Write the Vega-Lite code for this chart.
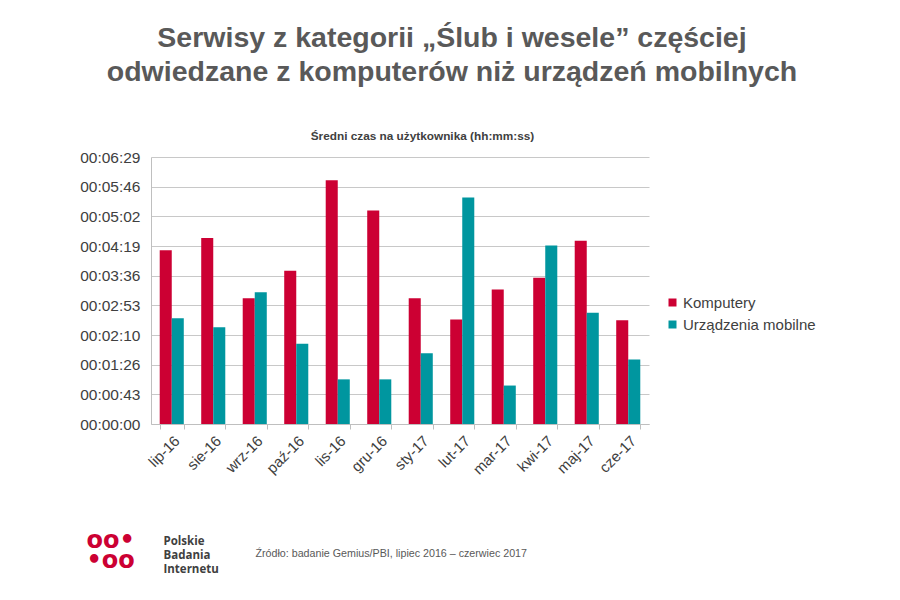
{
  "$schema": "https://vega.github.io/schema/vega-lite/v6.json",
  "width": 498,
  "height": 267,
  "autosize": {"type": "none"},
  "padding": {"left": 151, "top": 157, "right": 251, "bottom": 176},
  "background": "white",
  "config": {
    "view": {"stroke": null},
    "font": "Liberation Sans"
  },
  "title": {
    "text": ["Serwisy z kategorii „Ślub i wesele” częściej", "odwiedzane z komputerów niż urządzeń mobilnych"],
    "anchor": "middle",
    "frame": "group",
    "dx": 52,
    "offset": 44,
    "font": "Liberation Sans",
    "fontSize": 28.5,
    "fontWeight": "bold",
    "color": "#595959",
    "lineHeight": 34
  },
  "data": {
    "values": [
      {"month": "lip-16", "series": "Komputery", "seconds": 253},
      {"month": "lip-16", "series": "Urządzenia mobilne", "seconds": 154},
      {"month": "sie-16", "series": "Komputery", "seconds": 271},
      {"month": "sie-16", "series": "Urządzenia mobilne", "seconds": 141},
      {"month": "wrz-16", "series": "Komputery", "seconds": 183},
      {"month": "wrz-16", "series": "Urządzenia mobilne", "seconds": 192},
      {"month": "paź-16", "series": "Komputery", "seconds": 223},
      {"month": "paź-16", "series": "Urządzenia mobilne", "seconds": 117},
      {"month": "lis-16", "series": "Komputery", "seconds": 355},
      {"month": "lis-16", "series": "Urządzenia mobilne", "seconds": 65},
      {"month": "gru-16", "series": "Komputery", "seconds": 311},
      {"month": "gru-16", "series": "Urządzenia mobilne", "seconds": 65},
      {"month": "sty-17", "series": "Komputery", "seconds": 183},
      {"month": "sty-17", "series": "Urządzenia mobilne", "seconds": 103},
      {"month": "lut-17", "series": "Komputery", "seconds": 152},
      {"month": "lut-17", "series": "Urządzenia mobilne", "seconds": 330},
      {"month": "mar-17", "series": "Komputery", "seconds": 196},
      {"month": "mar-17", "series": "Urządzenia mobilne", "seconds": 56},
      {"month": "kwi-17", "series": "Komputery", "seconds": 213},
      {"month": "kwi-17", "series": "Urządzenia mobilne", "seconds": 260},
      {"month": "maj-17", "series": "Komputery", "seconds": 267},
      {"month": "maj-17", "series": "Urządzenia mobilne", "seconds": 162},
      {"month": "cze-17", "series": "Komputery", "seconds": 151},
      {"month": "cze-17", "series": "Urządzenia mobilne", "seconds": 94}
    ]
  },
  "layer": [
    {
      "mark": {"type": "bar"},
      "encoding": {
        "x": {
          "field": "month",
          "type": "nominal",
          "sort": ["lip-16", "sie-16", "wrz-16", "paź-16", "lis-16", "gru-16", "sty-17", "lut-17", "mar-17", "kwi-17", "maj-17", "cze-17"],
          "scale": {"paddingInner": 0.42, "paddingOuter": 0.21},
          "axis": {
            "orient": "bottom",
            "title": "Źródło: badanie Gemius/PBI, lipiec  2016 – czerwiec 2017",
            "titleX": 104,
            "titleY": 132,
            "titleAlign": "left",
            "titleAnchor": null,
            "titleBaseline": "alphabetic",
            "titleFont": "Liberation Sans",
            "titleFontSize": 10.7,
            "titleFontWeight": "normal",
            "titleColor": "#595959",
            "labelAngle": -45,
            "labelAlign": "right",
            "labelBaseline": "top",
            "labelFontSize": 15,
            "labelColor": "#404040",
            "labelPadding": 4,
            "tickBand": "extent",
            "tickSize": 5,
            "tickColor": "#bfbfbf",
            "domainColor": "#bfbfbf",
            "grid": false
          }
        },
        "xOffset": {
          "field": "series",
          "type": "nominal",
          "sort": ["Komputery", "Urządzenia mobilne"]
        },
        "y": {
          "field": "seconds",
          "type": "quantitative",
          "scale": {"domain": [0, 388.8], "nice": false},
          "axis": {
            "values": [0, 43.2, 86.4, 129.6, 172.8, 216, 259.2, 302.4, 345.6, 388.8],
            "labelExpr": "utcFormat(round(datum.value)*1000, '%H:%M:%S')",
            "labelFontSize": 15.5,
            "labelColor": "#404040",
            "labelPadding": 11,
            "ticks": false,
            "domain": true,
            "domainColor": "#bfbfbf",
            "gridColor": "#c8c8c8",
            "title": ["Polskie", "Badania", "Internetu"],
            "titleAngle": 0,
            "titleX": 12,
            "titleY": 378,
            "titleAlign": "left",
            "titleBaseline": "top",
            "titleFont": "Open Sans",
            "titleFontSize": 11.5,
            "titleFontWeight": "bold",
            "titleColor": "#404040",
            "titleLineHeight": 14
          }
        },
        "color": {
          "field": "series",
          "type": "nominal",
          "scale": {"domain": ["Komputery", "Urządzenia mobilne"], "range": ["#CC0033", "#00969F"]},
          "legend": {
            "title": null,
            "orient": "none",
            "legendX": 514,
            "legendY": 138,
            "symbolType": "square",
            "symbolSize": 64,
            "labelFontSize": 15,
            "labelColor": "#404040",
            "labelOffset": 3,
            "rowPadding": 6
          }
        }
      }
    },
    {
      "mark": {"type": "point", "opacity": 0},
      "encoding": {
        "x": {
          "field": "month",
          "type": "nominal",
          "sort": ["lip-16", "sie-16", "wrz-16", "paź-16", "lis-16", "gru-16", "sty-17", "lut-17", "mar-17", "kwi-17", "maj-17", "cze-17"],
          "axis": {
            "orient": "top",
            "labels": false,
            "ticks": false,
            "domain": false,
            "grid": false,
            "title": "Średni czas na użytkownika (hh:mm:ss)",
            "titleX": 271,
            "titleY": -18,
            "titleAlign": "center",
            "titleAnchor": null,
            "titleBaseline": "alphabetic",
            "titleFont": "Liberation Sans",
            "titleFontSize": 11.8,
            "titleFontWeight": "bold",
            "titleColor": "#404040"
          }
        },
        "y": {
          "field": "seconds",
          "type": "quantitative",
          "axis": {
            "orient": "right",
            "labels": false,
            "ticks": false,
            "domain": false,
            "grid": false,
            "title": ["oo•", "•oo"],
            "titleAngle": 0,
            "titleX": -563,
            "titleY": 390,
            "titleAlign": "left",
            "titleBaseline": "alphabetic",
            "titleFont": "DejaVu Sans",
            "titleFontSize": 24,
            "titleFontWeight": "bold",
            "titleColor": "#CC0033",
            "titleLineHeight": 20
          }
        }
      }
    }
  ],
  "resolve": {
    "scale": {"y": "independent"},
    "axis": {"x": "independent", "y": "independent"}
  }
}
